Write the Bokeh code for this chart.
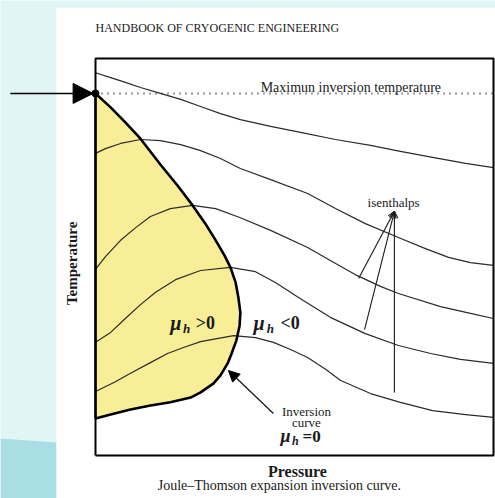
from math import pi

from bokeh.embed import file_html
from bokeh.models import Arrow, Label, NormalHead, OpenHead, Range1d
from bokeh.plotting import figure
from bokeh.resources import INLINE

# Schematic T-P diagram, both axes scaled 0..100 across the box.
# Joule-Thomson inversion curve (mu_h = 0)
inv_p = [0, 3.8, 7.5, 11.3, 16.3, 20.6, 24.4, 27.6, 30.2, 32.4, 33.9, 35.2, 35.9,
         36.4, 36.2, 35.4, 34.2, 33.2, 31.4, 29.6, 26.4, 23.9, 18.8, 13.8, 8.8, 3.8, 0]
inv_t = [91.2, 87.7, 83.9, 79.8, 73.3, 68.0, 63.0, 58.4, 54.2, 50.4, 47.4, 43.6, 39.8,
         36.0, 32.7, 29.0, 25.7, 23.2, 20.2, 18.1, 15.9, 14.6, 13.4, 12.6, 11.6, 10.3, 9.3]

# Isenthalps (constant-enthalpy lines), top to bottom
h1_p = [0, 3.8, 7.5, 11.3, 16.3, 21.4, 26.4, 31.4, 36.4, 44.0, 51.5, 60.3, 69.1, 76.6, 84.7, 93.0, 100]
h1_t = [96.4, 95.2, 94.0, 92.7, 91.2, 89.7, 87.9, 86.1, 84.6, 82.9, 81.4, 79.6, 78.1, 76.6, 75.1, 73.6, 72.5]

h2_p = [0, 2.5, 6.3, 11.3, 16.3, 21.4, 26.4, 31.4, 36.4, 44.0, 53.3, 60.3, 67.8, 76.1, 82.9, 88.7, 94.2, 100]
h2_t = [76.1, 77.3, 78.6, 79.6, 79.3, 78.3, 76.8, 74.8, 72.3, 69.5, 66.0, 62.2, 58.4, 54.9, 52.1, 49.9, 48.6, 47.9]

h3_p = [0, 2.5, 6.3, 10.1, 13.8, 18.8, 24.4, 30.2, 36.4, 44.0, 53.3, 59.0, 65.8, 71.6, 76.1, 86.7, 94.2, 100]
h3_t = [46.9, 50.1, 54.2, 57.4, 60.2, 62.2, 63.0, 62.2, 59.9, 56.7, 52.4, 49.1, 45.3, 42.6, 40.8, 37.5, 35.8, 34.5]

h4_p = [0, 3.8, 7.5, 11.3, 15.1, 20.1, 26.4, 33.9, 40.2, 45.2, 51.5, 59.0, 67.8, 76.1, 84.2, 91.7, 100]
h4_t = [28.5, 31.0, 34.5, 38.0, 41.1, 44.3, 46.6, 47.4, 46.3, 43.6, 39.5, 34.8, 30.7, 27.7, 25.7, 24.2, 23.2]

h5_p = [0, 5.0, 8.8, 13.8, 18.1, 22.1, 26.4, 34.7, 40.2, 44.7, 49.0, 53.3, 57.8, 61.6, 69.1, 76.6, 84.7, 93.0, 100]
h5_t = [16.1, 18.6, 20.7, 23.4, 25.7, 27.2, 28.7, 30.2, 29.7, 28.5, 26.7, 24.7, 21.7, 18.9, 15.6, 13.4, 11.3, 10.3, 9.6]

isenthalps = [(h1_p, h1_t), (h2_p, h2_t), (h3_p, h3_t), (h4_p, h4_t), (h5_p, h5_t)]

t_max_inv = 91.2          # maximum inversion temperature
label_apex = (75.1, 61.5)  # where the "isenthalps" pointers meet
pointer_ends = [(66.1, 44.6), (67.6, 31.7), (75.1, 15.9)]

SERIF = "Liberation Serif"
INK = "#1a1a1a"

p = figure(width=495, height=498,
           x_range=Range1d(-23.87, 100.5), y_range=Range1d(-10.83, 114.61),
           output_backend="svg", toolbar_location=None,
           x_axis_location=None, y_axis_location=None, min_border=0)
p.grid.visible = False
p.outline_line_color = None
p.background_fill_color = "#e2f5f6"
p.border_fill_color = "#e2f5f6"

# page and backdrop
p.patch([-23.87, -9.8, -9.8, -23.87], [4.3, 3.3, -10.83, -10.83],
        fill_color="#a9dfe4", line_color=None)
p.quad(left=-9.8, right=100.6, bottom=-10.9, top=112.8,
       fill_color="white", line_color=None)

# region where mu_h > 0
p.patch(inv_p, inv_t, fill_color="#f8ee98", line_color=None)

for hp, ht in isenthalps:
    p.line(hp, ht, line_color="#2b2b2b", line_width=1.2, line_join="round")

p.line([0, 100], [t_max_inv, t_max_inv], line_color="#333333",
       line_width=2, line_dash="1 5")

p.line(inv_p, inv_t, line_color="black", line_width=2.6, line_join="round")

# frame of the diagram
p.line([0, 0, 100, 100, 0], [0, 100, 100, 0, 0], line_color="black", line_width=2)
p.line([0, 0], [9.3, 91.2], line_color="black", line_width=2.4)

p.scatter([0], [t_max_inv], size=7, color="black")

# arrow marking the maximum inversion temperature
p.add_layout(Arrow(x_start=-21.4, y_start=t_max_inv, x_end=-0.6, y_end=t_max_inv,
                   line_width=1.6, line_color="black",
                   end=NormalHead(size=20, fill_color="black", line_color="black")))

# pointer to the inversion curve
p.add_layout(Arrow(x_start=44.7, y_start=10.6, x_end=33.4, y_end=21.4,
                   line_width=1.3, line_color=INK,
                   end=NormalHead(size=11, fill_color="black", line_color="black")))

for ex, ey in pointer_ends:
    p.add_layout(Arrow(x_start=ex, y_start=ey, x_end=label_apex[0], y_end=label_apex[1],
                       line_width=1.1, line_color=INK,
                       end=OpenHead(size=7, line_width=1.1, line_color=INK)))


def text(x, y, s, size, style="normal", align="left", baseline="alphabetic", angle=0):
    p.add_layout(Label(x=x, y=y, text=s, text_font=SERIF, text_font_size=size,
                       text_font_style=style, text_color=INK, text_align=align,
                       text_baseline=baseline, angle=angle))


text(0, 107.8, "HANDBOOK OF CRYOGENIC ENGINEERING", "12px")
text(41.5, 92.6, "Maximun inversion temperature", "14px")
text(74.9, 63.7, "isenthalps", "13px", align="center")

# mu_h > 0 / mu_h < 0 / mu_h = 0
text(18.8, 33.5, "μ", "20px", "bold italic")
text(22.0, 32.1, "h", "13px", "bold italic")
text(25.2, 33.5, ">0", "18px", "bold")

text(39.7, 33.5, "μ", "20px", "bold italic")
text(43.0, 32.1, "h", "13px", "bold italic")
text(46.5, 33.5, "<0", "18px", "bold")

text(53.0, 11.1, "Inversion", "13px", align="center")
text(53.0, 8.3, "curve", "13px", align="center")
text(46.5, 4.8, "μ", "18px", "bold italic")
text(49.4, 3.6, "h", "12px", "bold italic")
text(52.0, 4.8, "=0", "17px", "bold")

text(-5.8, 48.4, "Temperature", "15px", "bold", align="center", angle=pi / 2)
text(50.75, -4.1, "Pressure", "16px", "bold", align="center")
text(46.2, -9.4, "Joule–Thomson expansion inversion curve.", "14px",
     align="center", baseline="bottom")

open("out.html", "w").write(file_html(p, INLINE))
